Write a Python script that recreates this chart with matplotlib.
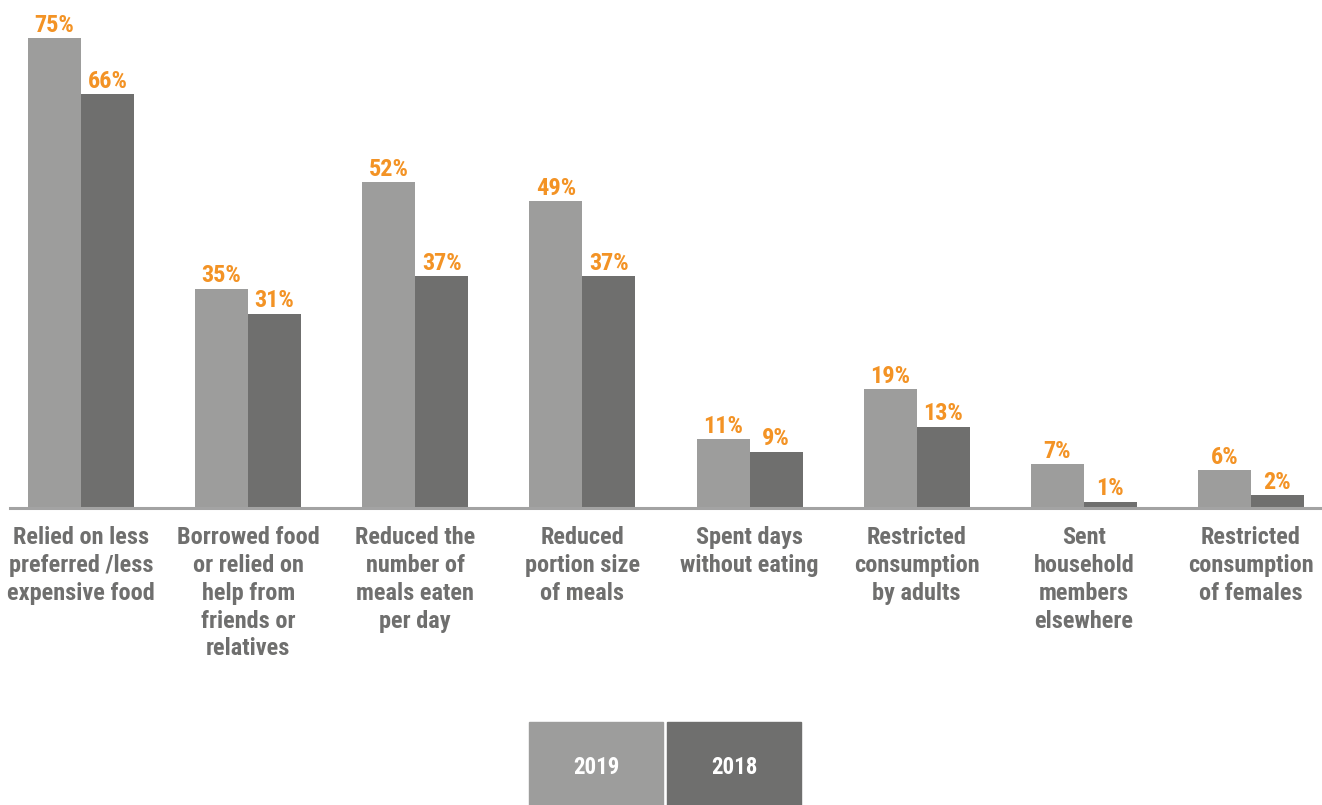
import numpy as np
import matplotlib.pyplot as plt
from matplotlib.patches import Rectangle

plt.rcParams['font.family'] = ['Roboto Condensed', 'DejaVu Sans']
plt.rcParams['font.weight'] = 'bold'

categories = [
    "Relied on less\npreferred /less\nexpensive food",
    "Borrowed food\nor relied on\nhelp from\nfriends or\nrelatives",
    "Reduced the\nnumber of\nmeals eaten\nper day",
    "Reduced\nportion size\nof meals",
    "Spent days\nwithout eating",
    "Restricted\nconsumption\nby adults",
    "Sent\nhousehold\nmembers\nelsewhere",
    "Restricted\nconsumption\nof females",
]
years = ["2019", "2018"]
vals_2019 = [75, 35, 52, 49, 11, 19, 7, 6]
vals_2018 = [66, 31, 37, 37, 9, 13, 1, 2]

c_light = '#9d9d9c'
c_dark = '#6f6f6e'
c_label = '#f39325'
c_text = '#6f6f6e'

W, H = 1322, 805
fig = plt.figure(figsize=(W / 100, H / 100), dpi=100)
ax = fig.add_axes([10 / W, (H - 508) / H, (W - 10) / W, 508 / H])

x = np.arange(len(categories))
bw = 0.317
b1 = ax.bar(x - bw / 2, vals_2019, bw, color=c_light, zorder=2)
b2 = ax.bar(x + bw / 2, vals_2018, bw, color=c_dark, zorder=2)

# percentage labels sit just above each bar
for bars, vals in ((b1, vals_2019), (b2, vals_2018)):
    for rect, v in zip(bars, vals):
        ax.annotate(f"{v}%", (rect.get_x() + rect.get_width() / 2, v),
                    xytext=(0, 4.5), textcoords='offset points',
                    ha='center', va='baseline', color=c_label,
                    fontsize=17.5, fontweight='bold')

ax.set_xlim(-0.425, 7.425)
ax.set_ylim(0, 508 / 6.267)
ax.set_yticks([])
ax.set_xticks(x)
ax.set_xticklabels(categories, fontsize=17.5, fontweight='bold',
                   color=c_text, linespacing=1.27)
ax.tick_params(axis='x', length=0, pad=13)
for side in ('top', 'right', 'left'):
    ax.spines[side].set_visible(False)
ax.spines['bottom'].set_color('#a3a3a3')
ax.spines['bottom'].set_linewidth(2.2)
ax.patch.set_alpha(0)

# legend boxes along the bottom edge
boxes = [(529, c_light), (667, c_dark)]
for (left, col), yr in zip(boxes, years):
    fig.patches.append(Rectangle((left / W, 0), 134 / W, 83 / H,
                                 transform=fig.transFigure, color=col))
    fig.text((left + 67) / W, 31 / H, yr, ha='center', va='baseline',
             color='white', fontsize=16.5, fontweight='bold')

fig.savefig('out.png', dpi=100)
